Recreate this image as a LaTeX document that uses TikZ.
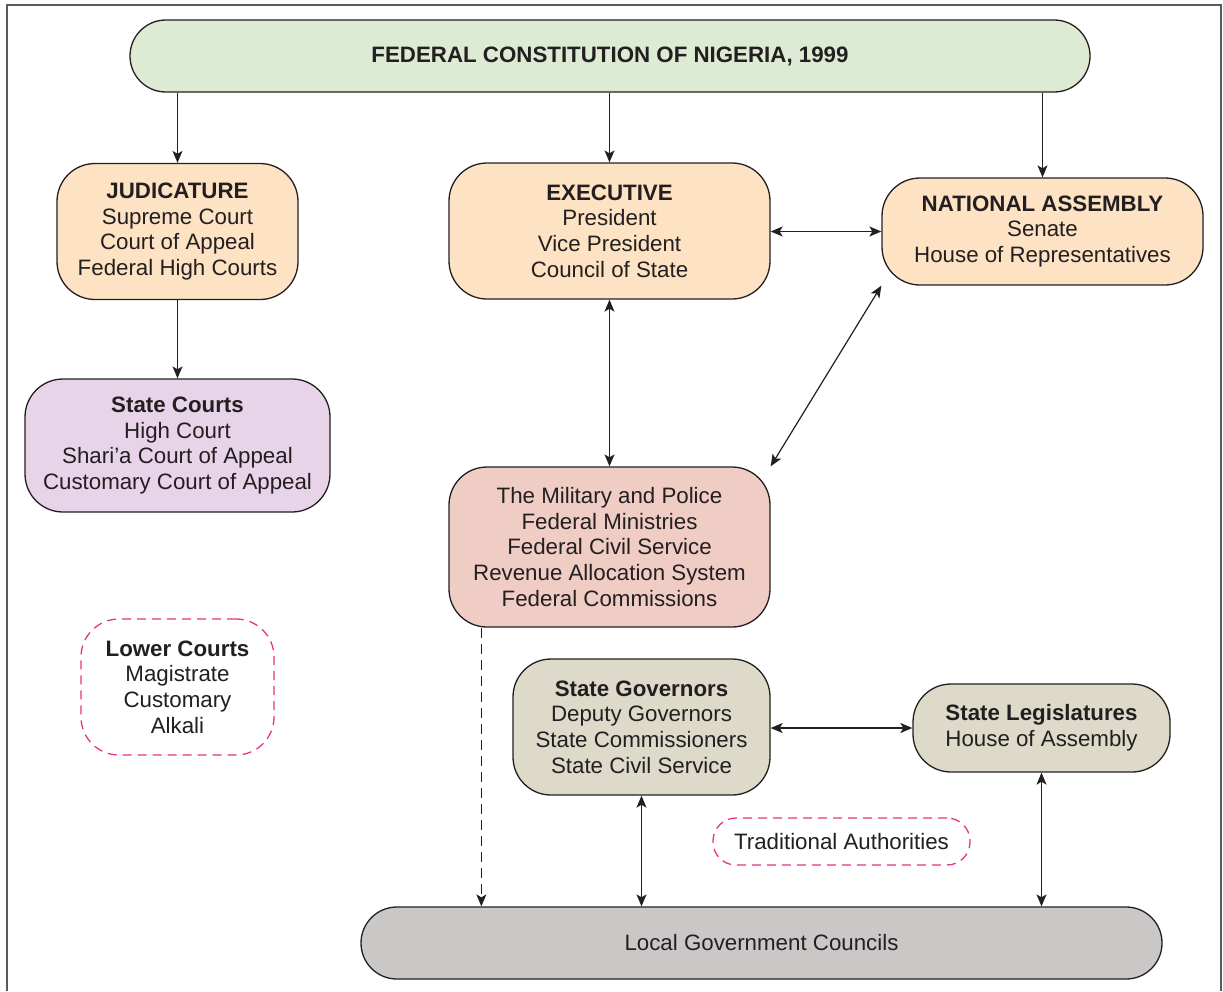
\documentclass[tikz,border=0pt]{standalone}
\usepackage{fontspec}
\setmainfont{Liberation Sans}
\usetikzlibrary{arrows.meta}
\definecolor{txt}{HTML}{231F20}
\definecolor{cgreen}{HTML}{DDEBD4}
\definecolor{cpeach}{HTML}{FDE2C3}
\definecolor{clav}{HTML}{E8D4E8}
\definecolor{cpink}{HTML}{EFCCC4}
\definecolor{cbeige}{HTML}{DDDACA}
\definecolor{cgrey}{HTML}{C9C8C7}
\definecolor{cmag}{HTML}{E8318A}
\definecolor{cframe}{HTML}{5A5A5A}
\tikzset{
  box/.style={draw=txt, line width=1.3pt, rounded corners=38pt, inner sep=0pt, align=center,
    text=txt, font=\fontsize{22.3}{25.6}\selectfont},
  pill/.style={box, rounded corners=35.9pt},
  dbox/.style={box, draw=cmag, dash pattern=on 9pt off 6pt},
  arr/.style={draw=txt, line width=1.2pt, -{Stealth[length=12pt,width=10pt,inset=3pt]}},
  darr/.style={draw=txt, line width=1.2pt, {Stealth[length=12pt,width=10pt,inset=3pt]}-{Stealth[length=12pt,width=10pt,inset=3pt]}},
}
\begin{document}
\begin{tikzpicture}[x=1pt,y=-1pt]
\useasboundingbox (0,0) rectangle (1223,991);
\draw[cframe, line width=2pt] (7,991) -- (7,5) -- (1221,5) -- (1221,991);

\node[pill, fill=cgreen, minimum width=960pt, minimum height=72pt] (top) at (610,56) {\textbf{FEDERAL CONSTITUTION OF NIGERIA, 1999}};

\node[box, fill=cpeach, minimum width=241pt, minimum height=136pt] (jud) at (177.5,231.5)
  {\textbf{JUDICATURE}\\Supreme Court\\Court of Appeal\\Federal High Courts};
\node[box, fill=cpeach, minimum width=321pt, minimum height=136pt] (exe) at (609.5,231)
  {\textbf{EXECUTIVE}\\President\\Vice President\\Council of State};
\node[box, fill=cpeach, minimum width=321pt, minimum height=107pt] (na) at (1042.5,231.5)
  {\textbf{NATIONAL ASSEMBLY}\\Senate\\House of Representatives};

\node[box, fill=clav, minimum width=305pt, minimum height=133pt] (sc) at (177.5,445.5)
  {\textbf{State Courts}\\High Court\\Shari’a Court of Appeal\\Customary Court of Appeal};

\node[box, fill=cpink, minimum width=321pt, minimum height=160pt] (mil) at (609.5,547)
  {The Military and Police\\Federal Ministries\\Federal Civil Service\\Revenue Allocation System\\Federal Commissions};

\node[dbox, fill=white, minimum width=193pt, minimum height=136pt] (lc) at (177.5,687)
  {\textbf{Lower Courts}\\Magistrate\\Customary\\Alkali};

\node[box, fill=cbeige, minimum width=257pt, minimum height=136pt] (sg) at (641.5,727)
  {\textbf{State Governors}\\Deputy Governors\\State Commissioners\\State Civil Service};
\node[box, fill=cbeige, minimum width=257pt, minimum height=88pt] (sl) at (1041.5,728)
  {\textbf{State Legislatures}\\House of Assembly};

\node[dbox, fill=white, rounded corners=23pt, minimum width=257pt, minimum height=47pt] (ta) at (841.5,841.5)
  {Traditional Authorities};

\node[pill, fill=cgrey, minimum width=801pt, minimum height=72pt] (lgc) at (761.5,943)
  {Local Government Councils};

\draw[arr] (jud.north |- top.south) -- (jud.north);
\draw[arr] (exe.north |- top.south) -- (exe.north);
\draw[arr] (na.north |- top.south) -- (na.north);
\draw[arr] (jud.south) -- (sc.north);
\draw[darr] (exe.east |- na.west) -- (na.west);
\draw[darr] (exe.south) -- (mil.north);
\draw[darr] (mil.north east) -- (na.south west);
\draw[arr, dash pattern=on 10pt off 6pt] ([xshift=33pt]mil.south west) -- ([xshift=33pt]mil.south west |- lgc.north);
\draw[darr] (sg.east |- sl.west) -- (sl.west);
\draw[darr] (sg.south) -- (sg.south |- lgc.north);
\draw[darr] (sl.south) -- (sl.south |- lgc.north);
\end{tikzpicture}
\end{document}
